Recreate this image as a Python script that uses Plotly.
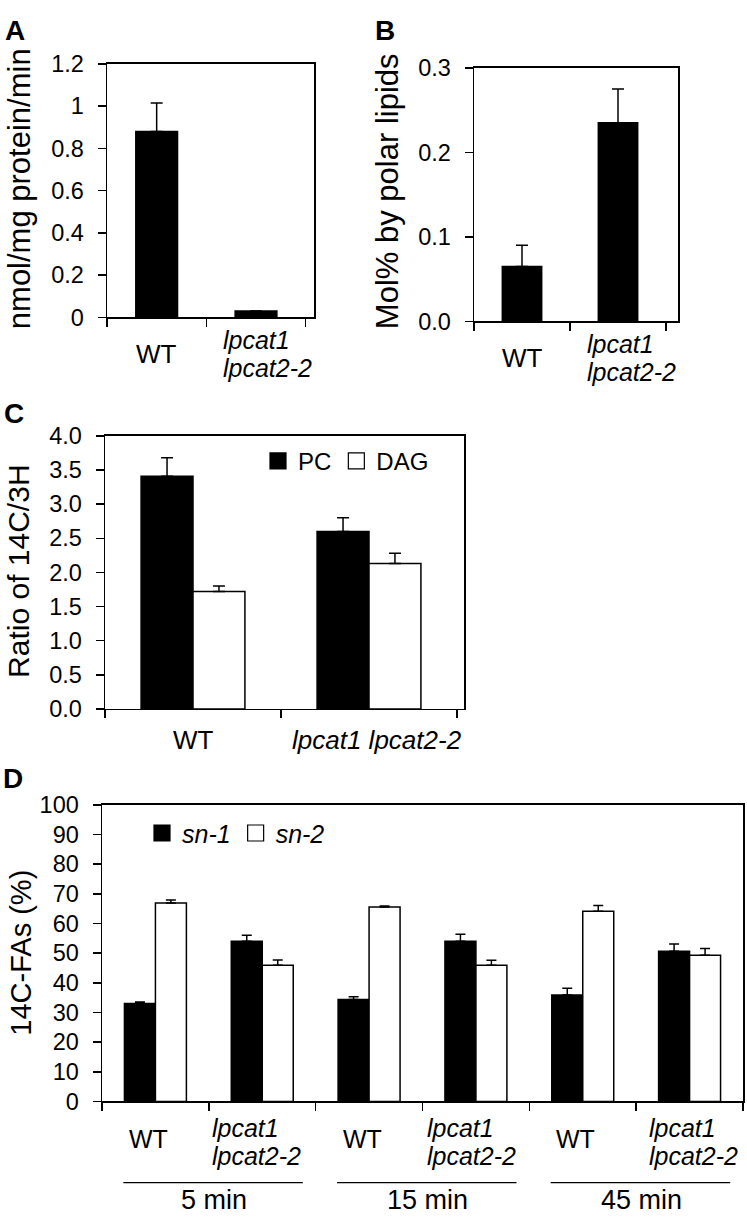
import plotly.graph_objects as go

# ---------------- data ----------------
genotypes = ["WT", "lpcat1 lpcat2-2"]
mutant_lines = ["lpcat1", "lpcat2-2"]

# Panel A: nmol/mg protein/min
a_values = [0.88, 0.03]
a_errors = [0.135, 0.0]

# Panel B: Mol% by polar lipids
b_values = [0.065, 0.235]
b_errors = [0.025, 0.04]

# Panel C: ratio of 14C/3H
c_series = ["PC", "DAG"]
c_pc = [3.41, 2.60]
c_pc_err = [0.27, 0.20]
c_dag = [1.72, 2.13]
c_dag_err = [0.08, 0.15]

# Panel D: 14C-FAs (%)
times = ["5 min", "15 min", "45 min"]
d_categories = [f"{g} ({t})" for t in times for g in genotypes]
d_sn1 = [33.0, 54.0, 34.4, 54.0, 35.9, 50.6]
d_sn1_err = [0.5, 2.0, 0.9, 2.4, 2.3, 2.5]
d_sn2 = [66.9, 45.9, 65.6, 45.9, 64.1, 49.3]
d_sn2_err = [1.0, 1.8, 0.3, 1.7, 2.0, 2.3]

# ---------------- layout helpers ----------------
W, H = 747, 1227
FONT = "Liberation Sans, Arial, sans-serif"


def px(v):
    return v / W


def py(v):
    return 1 - v / H


LW = 1.5
TICK = 23.5


def err(arr, cap=6):
    return dict(type="data", symmetric=False, array=arr, arrayminus=[0] * len(arr),
                color="black", thickness=LW, width=cap)


fig = go.Figure()

# A
fig.add_trace(go.Bar(x=genotypes, y=a_values, error_y=err(a_errors), width=0.42,
                     marker=dict(color="black", line=dict(color="black", width=LW)),
                     xaxis="x", yaxis="y", showlegend=False))
# B
fig.add_trace(go.Bar(x=genotypes, y=b_values, error_y=err(b_errors), width=0.41,
                     marker=dict(color="black", line=dict(color="black", width=LW)),
                     xaxis="x2", yaxis="y2", showlegend=False))
# C
fig.add_trace(go.Bar(x=genotypes, y=c_pc, error_y=err(c_pc_err), width=0.295, offset=-0.295,
                     marker=dict(color="black", line=dict(color="black", width=LW)),
                     xaxis="x3", yaxis="y3", showlegend=False, name=c_series[0]))
fig.add_trace(go.Bar(x=genotypes, y=c_dag, error_y=err(c_dag_err), width=0.295, offset=0,
                     marker=dict(color="white", line=dict(color="black", width=LW)),
                     xaxis="x3", yaxis="y3", showlegend=False, name=c_series[1]))
# D
fig.add_trace(go.Bar(x=d_categories, y=d_sn1, error_y=err(d_sn1_err, 5), width=0.29, offset=-0.29,
                     marker=dict(color="black", line=dict(color="black", width=LW)),
                     xaxis="x4", yaxis="y4", showlegend=False, name="sn-1"))
fig.add_trace(go.Bar(x=d_categories, y=d_sn2, error_y=err(d_sn2_err, 5), width=0.29, offset=0,
                     marker=dict(color="white", line=dict(color="black", width=LW)),
                     xaxis="x4", yaxis="y4", showlegend=False, name="sn-2"))

# legend entries (square swatches)
for name, col, leg, xa, ya in [
    (c_series[0], "black", "legend", "x3", "y3"),
    (c_series[1], "white", "legend", "x3", "y3"),
    ("<i>sn-1</i>", "black", "legend2", "x4", "y4"),
    ("<i>sn-2</i>", "white", "legend2", "x4", "y4"),
]:
    fig.add_trace(go.Scatter(x=[None], y=[None], mode="markers", name=name,
                             marker=dict(symbol="square", size=16, color=col,
                                         line=dict(color="black", width=1.2)),
                             xaxis=xa, yaxis=ya, legend=leg, showlegend=True))


def xax(domain, anchor):
    return dict(domain=domain, anchor=anchor, type="category", tickson="boundaries",
                ticks="outside", ticklen=8, tickwidth=LW, tickcolor="black",
                showticklabels=False, showline=True, linecolor="black", linewidth=LW,
                mirror=True, showgrid=False, zeroline=False, fixedrange=True)


def yax(domain, anchor, rng, dtick, fmt):
    return dict(domain=domain, anchor=anchor, range=rng, dtick=dtick, tickformat=fmt,
                ticks="outside", ticklen=8, tickwidth=LW, tickcolor="black",
                ticklabelstandoff=9,
                tickfont=dict(size=TICK, family=FONT, color="black"),
                showline=True, linecolor="black", linewidth=LW, mirror=True,
                showgrid=False, zeroline=False, fixedrange=True)


fig.update_layout(
    width=W, height=H, margin=dict(l=0, r=0, t=0, b=0),
    paper_bgcolor="white", plot_bgcolor="white",
    font=dict(family=FONT, color="black"),
    barmode="overlay",
    xaxis=xax([px(107), px(314)], "y"),
    yaxis=yax([py(311), py(52)], "x", [0, 1.2], 0.2, None),
    xaxis2=xax([px(474), px(678)], "y2"),
    yaxis2=yax([py(315), py(56)], "x2", [0, 0.3], 0.1, ".1f"),
    xaxis3=xax([px(105), px(464)], "y3"),
    yaxis3=yax([py(711), py(432)], "x3", [0, 4], 0.5, ".1f"),
    xaxis4=xax([px(102), px(743)], "y4"),
    yaxis4=yax([py(1112), py(809)], "x4", [0, 100], 10, None),
    legend=dict(orientation="h", x=px(258), y=py(458), xanchor="left", yanchor="middle",
                font=dict(size=24, family=FONT), bgcolor="rgba(0,0,0,0)",
                itemclick=False, tracegroupgap=0),
    legend2=dict(orientation="h", x=px(142), y=py(838), xanchor="left", yanchor="middle",
                 font=dict(size=25, family=FONT), bgcolor="rgba(0,0,0,0)",
                 itemclick=False, tracegroupgap=0),
)

ann = []


def note(text, x, y, xref="paper", size=25, **kw):
    d = dict(text=text, x=x, y=y, xref=xref, yref="paper", showarrow=False,
             xanchor="center", yanchor="middle", font=dict(size=size, family=FONT, color="black"))
    d.update(kw)
    ann.append(d)


def mutant_label(xref, cat, left_shift, y_top, y_bot, size=25):
    # two left-aligned italic lines under a category
    note(f"<i>{mutant_lines[0]}</i>", cat, py(y_top), xref=xref, size=size,
         xanchor="left", xshift=left_shift)
    note(f"<i>{mutant_lines[1]}</i>", cat, py(y_bot), xref=xref, size=size,
         xanchor="left", xshift=left_shift)


# panel letters
for letter, x, y in [("A", 15, 18), ("B", 385, 18), ("C", 14, 409), ("D", 13, 782)]:
    note(f"<b>{letter}</b>", px(x), py(y), size=28)
# axis titles
for text, x, y, size in [("nmol/mg protein/min", 19, 180, 31),
                         ("Mol% by polar lipids", 387, 182, 31),
                         ("Ratio of 14C/3H", 19, 571, 30),
                         ("14C-FAs (%)", 21, 960, 29)]:
    note(text, px(x), py(y), size=size, textangle=-90)

# A & B category labels
note(genotypes[0], genotypes[0], py(348), xref="x", size=26)
mutant_label("x", genotypes[1], -35, 334, 363)
note(genotypes[0], genotypes[0], py(352), xref="x2", size=26)
mutant_label("x2", genotypes[1], -33, 338, 367)
# C category labels
note(genotypes[0], genotypes[0], py(743), xref="x3", size=26)
note("<i>lpcat1 lpcat2-2</i>", genotypes[1], py(743), xref="x3", size=26, xshift=8)
# D category + time labels
for k, t in enumerate(times):
    note(genotypes[0], d_categories[2 * k], py(1150), xref="x4", size=25, xshift=-7)
    mutant_label("x4", d_categories[2 * k + 1], [-52, -51, -43][k], 1139, 1168)
    note(t, 2 * k + 0.55, py(1213), xref="x4", size=27)

shapes = []
for k, t in enumerate(times):
    shapes.append(dict(type="line", xref="x4", yref="paper", x0=2 * k - 0.3, x1=2 * k + 1.38,
                       y0=py(1195), y1=py(1195), line=dict(color="black", width=1.3)))

fig.update_layout(annotations=ann, shapes=shapes)
fig.write_html("out.html", config={"displayModeBar": False, "staticPlot": True},
               post_script="document.body.style.margin='0';document.body.style.overflow='hidden';")
